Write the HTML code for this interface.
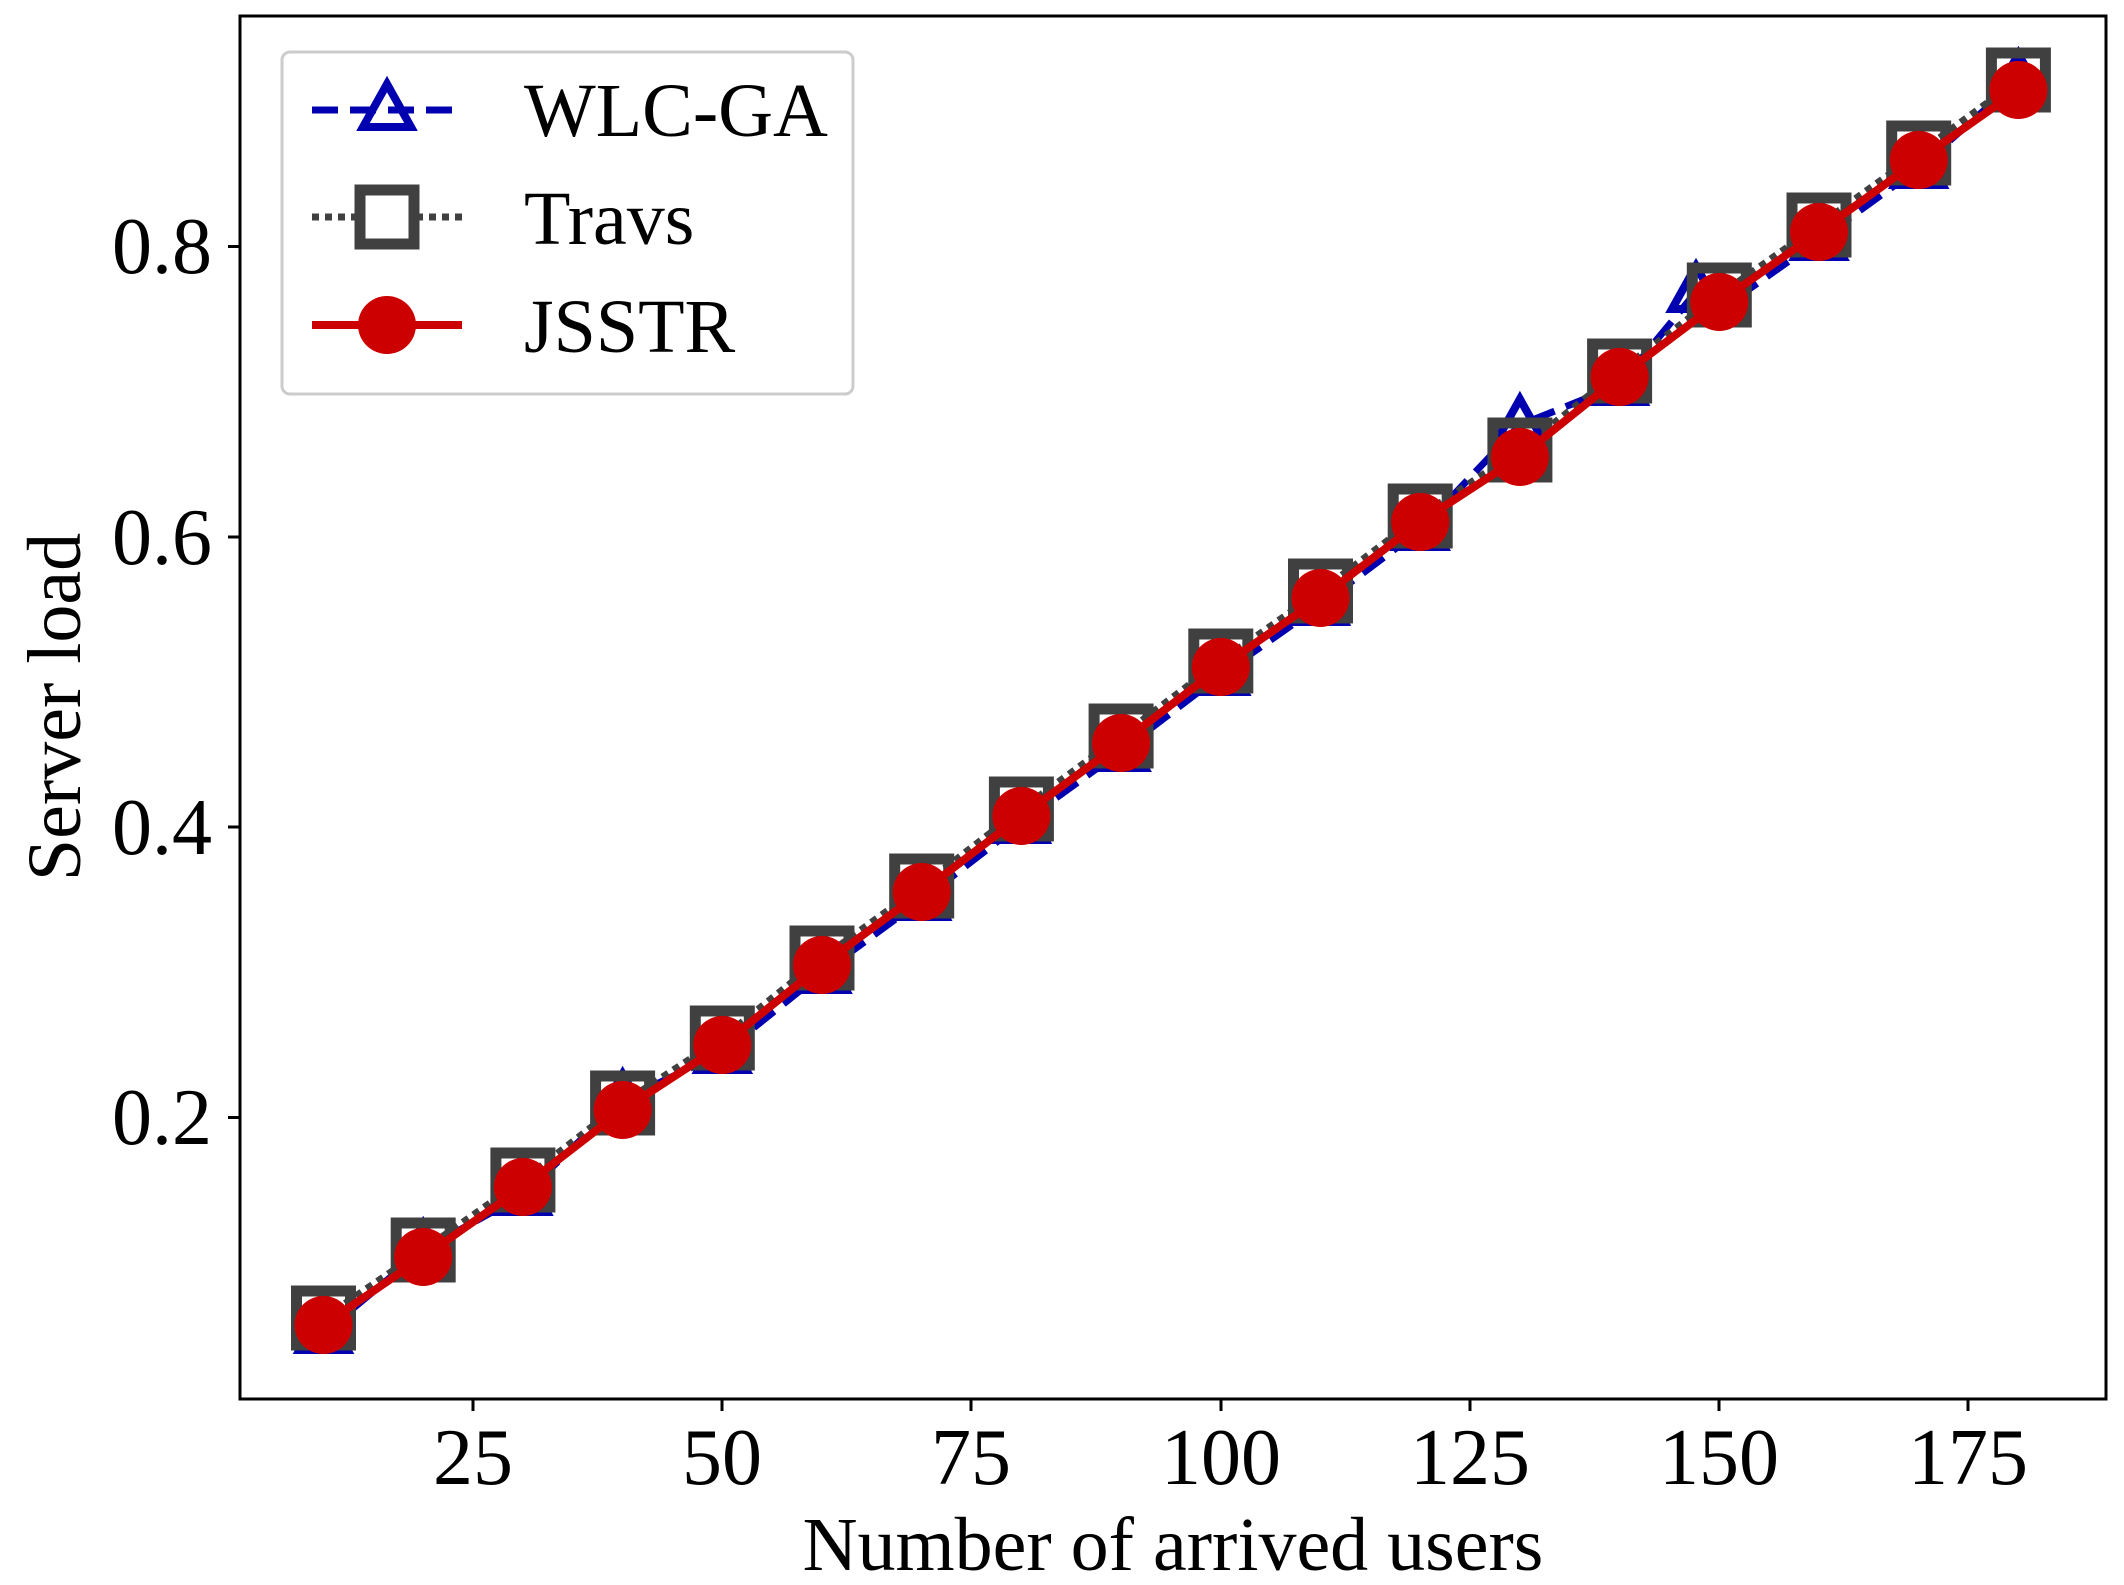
<!DOCTYPE html>
<html><head><meta charset="utf-8"><style>
html,body{margin:0;padding:0;background:#fff}
svg{display:block}
text{font-family:"Liberation Serif",serif;fill:#000}
</style></head><body>
<svg width="2124" height="1585" viewBox="0 0 2124 1585" xmlns="http://www.w3.org/2000/svg">
<defs>
<rect id="sq" x="-27" y="-27" width="54" height="54" fill="none" stroke="#404040" stroke-width="11"/>
<polygon id="tr" points="0,-26 24,17 -24,17" fill="none" stroke="#0000b0" stroke-width="8"/>
<circle id="ci" r="29" fill="#cc0000"/>
</defs>
<rect x="240" y="16" width="1866" height="1383" fill="#fff" stroke="#000" stroke-width="3"/>
<g stroke="#000" stroke-width="3">
<line x1="473" y1="1399" x2="473" y2="1411"/><line x1="722" y1="1399" x2="722" y2="1411"/>
<line x1="971" y1="1399" x2="971" y2="1411"/><line x1="1221" y1="1399" x2="1221" y2="1411"/>
<line x1="1470" y1="1399" x2="1470" y2="1411"/><line x1="1719" y1="1399" x2="1719" y2="1411"/>
<line x1="1968" y1="1399" x2="1968" y2="1411"/>
<line x1="228" y1="1117.5" x2="240" y2="1117.5"/><line x1="228" y1="827" x2="240" y2="827"/>
<line x1="228" y1="537" x2="240" y2="537"/><line x1="228" y1="246.5" x2="240" y2="246.5"/>
</g>
<g font-size="80" text-anchor="middle">
<text x="473" y="1484">25</text><text x="722" y="1484">50</text><text x="971" y="1484">75</text>
<text x="1221" y="1484">100</text><text x="1470" y="1484">125</text><text x="1719" y="1484">150</text>
<text x="1968" y="1484">175</text>
</g>
<g font-size="80" text-anchor="end">
<text x="212" y="1144">0.2</text><text x="212" y="854">0.4</text>
<text x="212" y="564">0.6</text><text x="212" y="273">0.8</text>
</g>
<text x="1173" y="1570" font-size="76" text-anchor="middle">Number of arrived users</text>
<text transform="translate(80,707) rotate(-90)" font-size="76" text-anchor="middle">Server load</text>
<polyline fill="none" stroke="#0000b0" stroke-width="7" stroke-dasharray="26,12" points="323.5,1333 423.2,1250 522.9,1195 622.6,1100 722.3,1053 822,973 921.7,900 1021.4,823 1121.1,751 1220.8,675 1320.5,605 1420.2,530 1519.9,425 1619.6,385 1696,292 1719.3,310 1819,240 1918.7,168 2018.4,80"/>
<g fill="none">
<use href="#tr" x="323.5" y="1333"/><use href="#tr" x="423.2" y="1250"/><use href="#tr" x="522.9" y="1195"/>
<use href="#tr" x="622.6" y="1100"/><use href="#tr" x="722.3" y="1053"/><use href="#tr" x="822" y="973"/>
<use href="#tr" x="921.7" y="900"/><use href="#tr" x="1021.4" y="823"/><use href="#tr" x="1121.1" y="751"/>
<use href="#tr" x="1220.8" y="675"/><use href="#tr" x="1320.5" y="605"/><use href="#tr" x="1420.2" y="530"/>
<use href="#tr" x="1519.9" y="425"/><use href="#tr" x="1619.6" y="385"/><use href="#tr" x="1696" y="292"/>
<use href="#tr" x="1819" y="240"/><use href="#tr" x="1918.7" y="168"/><use href="#tr" x="2018.4" y="80"/>
</g>
<polyline fill="none" stroke="#404040" stroke-width="7" stroke-dasharray="7,6" points="323.5,1318 423.2,1250 522.9,1180 622.6,1103 722.3,1038 822,958 921.7,886 1021.4,809 1121.1,736 1220.8,661 1320.5,591 1420.2,516 1519.9,450 1619.6,371 1719.3,295 1819,225 1918.7,153 2018.4,80"/>
<use href="#sq" x="323.5" y="1318"/><use href="#sq" x="423.2" y="1250"/><use href="#sq" x="522.9" y="1180"/>
<use href="#sq" x="622.6" y="1103"/><use href="#sq" x="722.3" y="1038"/><use href="#sq" x="822" y="958"/>
<use href="#sq" x="921.7" y="886"/><use href="#sq" x="1021.4" y="809"/><use href="#sq" x="1121.1" y="736"/>
<use href="#sq" x="1220.8" y="661"/><use href="#sq" x="1320.5" y="591"/><use href="#sq" x="1420.2" y="516"/>
<use href="#sq" x="1519.9" y="450"/><use href="#sq" x="1619.6" y="371"/><use href="#sq" x="1719.3" y="295"/>
<use href="#sq" x="1819" y="225"/><use href="#sq" x="1918.7" y="153"/><use href="#sq" x="2018.4" y="80"/>
<polyline fill="none" stroke="#cc0000" stroke-width="8" points="323.5,1325 423.2,1257 522.9,1187 622.6,1110 722.3,1045 822,965 921.7,892 1021.4,816 1121.1,743 1220.8,667 1320.5,598 1420.2,522 1519.9,457 1619.6,377 1719.3,302 1819,232 1918.7,160 2018.4,90"/>
<use href="#ci" x="323.5" y="1325"/><use href="#ci" x="423.2" y="1257"/><use href="#ci" x="522.9" y="1187"/>
<use href="#ci" x="622.6" y="1110"/><use href="#ci" x="722.3" y="1045"/><use href="#ci" x="822" y="965"/>
<use href="#ci" x="921.7" y="892"/><use href="#ci" x="1021.4" y="816"/><use href="#ci" x="1121.1" y="743"/>
<use href="#ci" x="1220.8" y="667"/><use href="#ci" x="1320.5" y="598"/><use href="#ci" x="1420.2" y="522"/>
<use href="#ci" x="1519.9" y="457"/><use href="#ci" x="1619.6" y="377"/><use href="#ci" x="1719.3" y="302"/>
<use href="#ci" x="1819" y="232"/><use href="#ci" x="1918.7" y="160"/><use href="#ci" x="2018.4" y="90"/>
<rect x="282" y="52" width="571" height="342" rx="8" fill="#fff" fill-opacity="0.9" stroke="#ccc" stroke-width="3"/>
<line x1="312" y1="110" x2="462" y2="110" stroke="#0000b0" stroke-width="7" stroke-dasharray="26,12"/>
<use href="#tr" x="387" y="110"/>
<line x1="312" y1="217" x2="462" y2="217" stroke="#404040" stroke-width="7" stroke-dasharray="7,6"/>
<rect x="360" y="190" width="54" height="54" fill="#fff" stroke="#404040" stroke-width="11"/>
<line x1="312" y1="325" x2="462" y2="325" stroke="#cc0000" stroke-width="8"/>
<use href="#ci" x="387" y="325"/>
<g font-size="76">
<text x="524" y="136">WLC-GA</text><text x="524" y="244">Travs</text><text x="524" y="352">JSSTR</text>
</g>
</svg>
</body></html>
